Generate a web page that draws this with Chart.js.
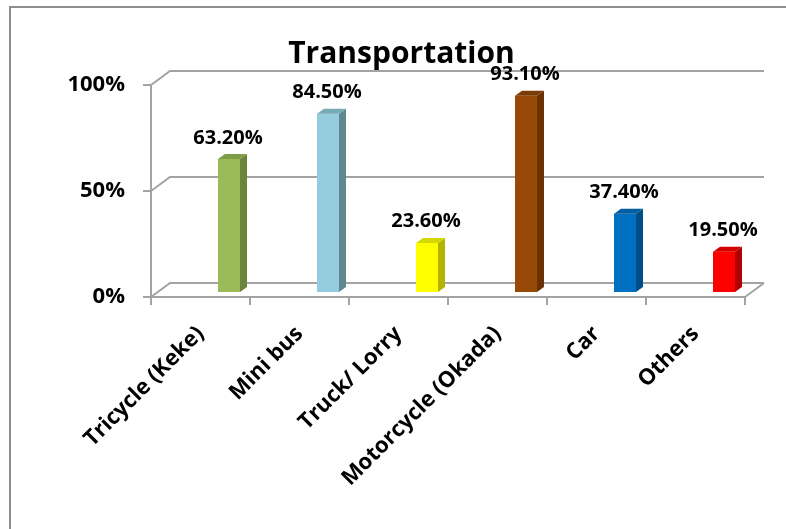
<!DOCTYPE html>
<html>
<head>
<meta charset="utf-8">
<script src="https://cdn.jsdelivr.net/npm/chart.js@4.4.0/dist/chart.umd.min.js"></script>
<style>
  body { margin: 0; background: #fff; }
  canvas { display: block; }
</style>
</head>
<body>
<canvas id="chart" width="786" height="529"></canvas>
<script>
const categories = ["Tricycle (Keke)", "Mini bus", "Truck/ Lorry", "Motorcycle (Okada)", "Car", "Others"];
const shares = [63.2, 84.5, 23.6, 93.1, 37.4, 19.5];
const frontColors = ["#9bbb59", "#93cddd", "#ffff00", "#984807", "#0070c0", "#ff0000"];
const sideColors = ["#6b843c", "#5f8790", "#b3b300", "#6a3204", "#004e86", "#b00000"];
const topColors = ["#7f9c47", "#77a9b6", "#d6d600", "#7c3a05", "#005ea1", "#d40000"];
const yTicks = [0, 50, 100];

const FONT = "'Open Sans', 'DejaVu Sans', sans-serif";
const gridColor = "#a3a3a3";
const wallShift = { x: 19, y: -14 }; // back wall sits up and to the right
const barShift = { x: 28.5, y: -4 }; // bars stand mid-depth
const barDepth = { x: 7, y: -5 };    // visible side / top of each bar

const box3d = {
  id: "box3d",
  beforeDraw(chart) {
    const ctx = chart.ctx;
    ctx.save();
    ctx.fillStyle = "#fff";
    ctx.fillRect(0, 0, chart.width, chart.height);
    ctx.strokeStyle = "#8e8e8e";
    ctx.lineWidth = 2;
    ctx.strokeRect(10, 7, chart.width + 20, chart.height + 20);
    ctx.restore();
  },
  beforeDatasetsDraw(chart) {
    const { ctx, chartArea: a, scales } = chart;
    ctx.save();
    ctx.strokeStyle = gridColor;
    ctx.lineWidth = 2;
    ctx.beginPath();
    yTicks.forEach(v => {
      const y = scales.y.getPixelForValue(v);
      ctx.moveTo(a.left, y);
      ctx.lineTo(a.left + wallShift.x, y + wallShift.y);
      ctx.lineTo(a.right + wallShift.x, y + wallShift.y);
    });
    // right edge of the floor
    const y0 = scales.y.getPixelForValue(0);
    ctx.moveTo(a.right, y0);
    ctx.lineTo(a.right + wallShift.x, y0 + wallShift.y);
    ctx.stroke();
    ctx.restore();

    ctx.save();
    ctx.translate(barShift.x, barShift.y);
  },
  afterDatasetsDraw(chart) {
    const ctx = chart.ctx;
    const bars = chart.getDatasetMeta(0).data;
    bars.forEach((bar, i) => {
      const { x, y, base, width } = bar.getProps(["x", "y", "base", "width"], true);
      const l = x - width / 2, r = x + width / 2;
      ctx.fillStyle = sideColors[i];
      ctx.beginPath();
      ctx.moveTo(r, y);
      ctx.lineTo(r + barDepth.x, y + barDepth.y);
      ctx.lineTo(r + barDepth.x, base + barDepth.y);
      ctx.lineTo(r, base);
      ctx.closePath();
      ctx.fill();
      ctx.fillStyle = topColors[i];
      ctx.beginPath();
      ctx.moveTo(l, y);
      ctx.lineTo(l + barDepth.x, y + barDepth.y);
      ctx.lineTo(r + barDepth.x, y + barDepth.y);
      ctx.lineTo(r, y);
      ctx.closePath();
      ctx.fill();
    });
    ctx.restore();

    // value labels above the bars
    ctx.save();
    ctx.fillStyle = "#000";
    ctx.font = "bold 20px " + FONT;
    ctx.textAlign = "center";
    ctx.textBaseline = "alphabetic";
    bars.forEach((bar, i) => {
      const { x, y } = bar.getProps(["x", "y"], true);
      ctx.fillText(shares[i].toFixed(2) + "%", x + barShift.x - 1, y + barShift.y - 15.5);
    });
    ctx.restore();
  }
};

new Chart(document.getElementById("chart"), {
  type: "bar",
  data: {
    labels: categories,
    datasets: [{
      data: shares,
      backgroundColor: frontColors,
      borderWidth: 0,
      categoryPercentage: 1,
      barPercentage: 0.222,
      clip: false
    }]
  },
  options: {
    responsive: false,
    devicePixelRatio: 1,
    animation: false,
    events: [],
    layout: { padding: { left: 58, right: 41, top: 0, bottom: 0 } },
    plugins: {
      legend: { display: false },
      tooltip: { enabled: false },
      title: {
        display: true,
        text: "Transportation",
        color: "#000",
        font: { family: FONT, size: 30, weight: "bold", lineHeight: 1.2 },
        padding: { top: 36, bottom: 13 }
      }
    },
    scales: {
      x: {
        grid: { drawOnChartArea: false, color: gridColor, lineWidth: 2, tickLength: 8 },
        border: { color: gridColor, width: 2 },
        ticks: {
          color: "#000",
          font: { family: FONT, size: 22, weight: "bold" },
          minRotation: 45,
          maxRotation: 45,
          autoSkip: false,
          padding: 16
        },
        afterFit(scale) { scale.height = 529 - 297; }
      },
      y: {
        min: 0,
        max: 100,
        grid: { drawOnChartArea: false, color: gridColor, lineWidth: 2, tickLength: 8 },
        border: { color: gridColor, width: 2 },
        ticks: {
          stepSize: 50,
          color: "#000",
          font: { family: FONT, size: 22, weight: "bold" },
          padding: 18,
          callback: v => v + "%"
        },
        afterFit(scale) { scale.width = 151 - 58; }
      }
    }
  },
  plugins: [box3d]
});
</script>
</body>
</html>
